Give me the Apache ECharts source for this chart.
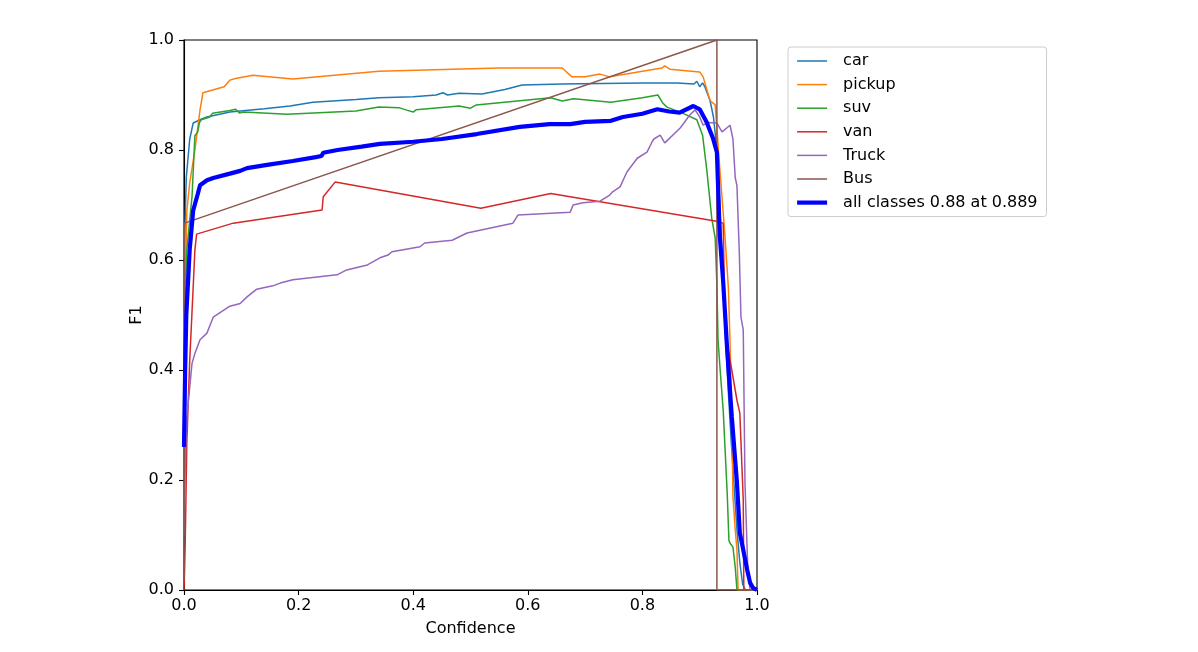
<!DOCTYPE html>
<html>
<head>
<meta charset="utf-8">
<script src="https://cdn.jsdelivr.net/npm/echarts@6/dist/echarts.min.js"></script>
<style>
html,body{margin:0;padding:0;background:#fff;}
#chart{width:1198px;height:652px;}
</style>
</head>
<body>
<div id="chart"></div>
<script>
const seriesNames = ['car','pickup','suv','van','Truck','Bus','all classes 0.88 at 0.889'];
const xTicks = [0, 0.2, 0.4, 0.6, 0.8, 1.0];
const yTicks = [0, 0.2, 0.4, 0.6, 0.8, 1.0];

const car = [[0,0.6],[0.004,0.75],[0.01,0.82],[0.016,0.849],[0.028,0.855],[0.04,0.86],[0.08,0.869],[0.14,0.875],[0.185,0.88],[0.225,0.887],[0.3,0.892],[0.34,0.895],[0.4,0.897],[0.44,0.9],[0.452,0.904],[0.46,0.9],[0.48,0.903],[0.52,0.902],[0.56,0.91],[0.59,0.918],[0.66,0.92],[0.73,0.921],[0.8,0.922],[0.86,0.922],[0.89,0.92],[0.895,0.925],[0.9,0.915],[0.905,0.922],[0.909,0.915],[0.918,0.89],[0.924,0.86],[0.93,0.8],[0.935,0.7],[0.94,0.58],[0.945,0.46],[0.95,0.36],[0.955,0.27],[0.96,0.19],[0.965,0.11],[0.97,0.05],[0.975,0.01],[0.98,0],[1,0]];

const pickup = [[0,0.45],[0.005,0.69],[0.01,0.74],[0.019,0.8],[0.028,0.873],[0.033,0.904],[0.07,0.915],[0.08,0.927],[0.09,0.93],[0.12,0.936],[0.19,0.929],[0.34,0.943],[0.55,0.949],[0.66,0.949],[0.677,0.933],[0.7,0.933],[0.726,0.938],[0.743,0.933],[0.834,0.949],[0.839,0.953],[0.848,0.947],[0.9,0.942],[0.906,0.933],[0.918,0.89],[0.927,0.882],[0.935,0.767],[0.944,0.645],[0.95,0.55],[0.953,0.45],[0.955,0.35],[0.957,0.25],[0.958,0.17],[0.962,0.11],[0.965,0.073],[0.967,0],[1,0]];

const suv = [[0,0.45],[0.005,0.62],[0.014,0.715],[0.019,0.826],[0.024,0.833],[0.027,0.85],[0.03,0.855],[0.045,0.86],[0.05,0.867],[0.08,0.872],[0.09,0.874],[0.097,0.867],[0.104,0.869],[0.18,0.865],[0.3,0.871],[0.34,0.878],[0.375,0.877],[0.39,0.872],[0.4,0.869],[0.405,0.873],[0.48,0.88],[0.5,0.876],[0.51,0.882],[0.64,0.895],[0.66,0.889],[0.68,0.893],[0.745,0.887],[0.8,0.895],[0.827,0.9],[0.835,0.886],[0.843,0.878],[0.87,0.867],[0.895,0.855],[0.905,0.827],[0.912,0.767],[0.921,0.676],[0.927,0.64],[0.93,0.555],[0.932,0.455],[0.935,0.41],[0.941,0.327],[0.948,0.176],[0.951,0.09],[0.953,0.085],[0.958,0.078],[0.962,0.042],[0.965,0],[1,0]];

const van = [[0,0],[0.002,0.08],[0.005,0.27],[0.007,0.33],[0.01,0.418],[0.016,0.55],[0.019,0.618],[0.022,0.647],[0.086,0.667],[0.241,0.691],[0.243,0.715],[0.264,0.742],[0.518,0.694],[0.64,0.721],[0.927,0.671],[0.941,0.667],[0.943,0.55],[0.945,0.47],[0.953,0.418],[0.965,0.345],[0.97,0.322],[0.976,0.164],[0.977,0],[1,0]];

const truck = [[0,0.1],[0.003,0.27],[0.005,0.315],[0.014,0.412],[0.019,0.43],[0.028,0.455],[0.04,0.467],[0.051,0.496],[0.08,0.516],[0.098,0.521],[0.11,0.533],[0.127,0.547],[0.155,0.553],[0.168,0.558],[0.19,0.564],[0.267,0.573],[0.284,0.582],[0.32,0.591],[0.342,0.604],[0.356,0.609],[0.363,0.615],[0.412,0.624],[0.42,0.631],[0.468,0.636],[0.494,0.649],[0.574,0.667],[0.583,0.682],[0.674,0.687],[0.679,0.7],[0.696,0.704],[0.726,0.707],[0.743,0.718],[0.748,0.724],[0.761,0.733],[0.773,0.76],[0.791,0.785],[0.808,0.796],[0.817,0.815],[0.82,0.82],[0.831,0.827],[0.839,0.813],[0.866,0.84],[0.883,0.864],[0.892,0.873],[0.9,0.86],[0.906,0.845],[0.913,0.85],[0.93,0.849],[0.939,0.833],[0.953,0.845],[0.956,0.83],[0.958,0.82],[0.962,0.75],[0.965,0.735],[0.969,0.618],[0.972,0.496],[0.976,0.473],[0.979,0.195],[0.984,0.036],[0.988,0],[1,0]];

const bus = [[0,0.02],[0.001,0.667],[0.93,1.0],[0.93,0],[1,0]];

const allClasses = [[0,0.26],[0.002,0.4],[0.004,0.5],[0.007,0.56],[0.01,0.62],[0.016,0.69],[0.024,0.72],[0.028,0.736],[0.04,0.745],[0.051,0.749],[0.08,0.757],[0.098,0.762],[0.11,0.767],[0.145,0.773],[0.19,0.78],[0.23,0.787],[0.24,0.789],[0.243,0.795],[0.268,0.8],[0.31,0.806],[0.342,0.811],[0.4,0.815],[0.45,0.82],[0.511,0.829],[0.586,0.842],[0.638,0.847],[0.674,0.847],[0.7,0.851],[0.745,0.853],[0.766,0.86],[0.8,0.866],[0.826,0.874],[0.847,0.87],[0.865,0.868],[0.889,0.88],[0.9,0.874],[0.912,0.851],[0.923,0.822],[0.93,0.796],[0.932,0.736],[0.935,0.645],[0.941,0.56],[0.948,0.436],[0.956,0.315],[0.965,0.195],[0.97,0.104],[0.976,0.073],[0.983,0.036],[0.988,0.013],[0.993,0.004],[1,0]];

const colors = ['#1f77b4','#ff7f0e','#2ca02c','#d62728','#9467bd','#8c564b','#0000ff'];
const datasets = [car, pickup, suv, van, truck, bus, allClasses];

const FONT = 'DejaVu Sans';
const FS = 16;
const chart = echarts.init(document.getElementById('chart'), null, {renderer: 'canvas'});

const lineWidths = seriesNames.map((n, i) => i === 6 ? 4.2 : 1.5);

const series = datasets.map((d, i) => ({
  name: seriesNames[i],
  type: 'line',
  data: d,
  symbol: 'none',
  showSymbol: false,
  smooth: false,
  z: i === 6 ? 10 : 2 + i,
  lineStyle: { color: colors[i], width: lineWidths[i] },
  itemStyle: { color: colors[i] },
  emphasis: { disabled: true }
}));

chart.setOption({
  animation: false,
  backgroundColor: '#ffffff',
  grid: { left: 184, top: 40, width: 573, height: 550, show: true, borderColor: '#000', borderWidth: 1.1, backgroundColor: 'transparent' },
  legend: {
    orient: 'vertical', left: 788, top: 47,
    data: seriesNames.map((n, i) => ({ name: n, lineStyle: { color: colors[i], width: lineWidths[i] } })),
    itemWidth: 30, itemHeight: 16, itemGap: 7.6,
    padding: [6, 9, 6, 7],
    borderColor: '#cccccc', borderWidth: 1, borderRadius: 3,
    backgroundColor: '#ffffff',
    itemStyle: { color: 'rgba(0,0,0,0)', borderColor: 'rgba(0,0,0,0)', borderWidth: 0 },
    textStyle: { fontFamily: FONT, fontSize: FS, color: '#000', lineHeight: 16, padding: [0, 0, 0, 11] },
    selectedMode: false
  },
  xAxis: {
    type: 'value', min: 0, max: 1, interval: 0.2,
    name: 'Confidence', nameLocation: 'middle', nameGap: 31,
    nameTextStyle: { fontFamily: FONT, fontSize: FS, color: '#000' },
    axisLine: { show: true, lineStyle: { color: '#000', width: 1.1 } },
    axisTick: { show: true, inside: false, length: 5, lineStyle: { color: '#000', width: 1.1 } },
    axisLabel: { fontFamily: FONT, fontSize: FS, color: '#000', margin: 8, formatter: v => xTicks.includes(Math.round(v*10)/10) ? v.toFixed(1) : '' },
    splitLine: { show: false }
  },
  yAxis: {
    type: 'value', min: 0, max: 1, interval: 0.2,
    name: 'F1', nameLocation: 'middle', nameGap: 28, nameRotate: 90,
    nameTextStyle: { fontFamily: FONT, fontSize: FS, color: '#000' },
    axisLine: { show: true, lineStyle: { color: '#000', width: 1.1 } },
    axisTick: { show: true, inside: false, length: 5, lineStyle: { color: '#000', width: 1.1 } },
    axisLabel: { fontFamily: FONT, fontSize: FS, color: '#000', margin: 10, formatter: v => yTicks.includes(Math.round(v*10)/10) ? v.toFixed(1) : '' },
    splitLine: { show: false }
  },
  series: series
});
</script>
</body>
</html>
